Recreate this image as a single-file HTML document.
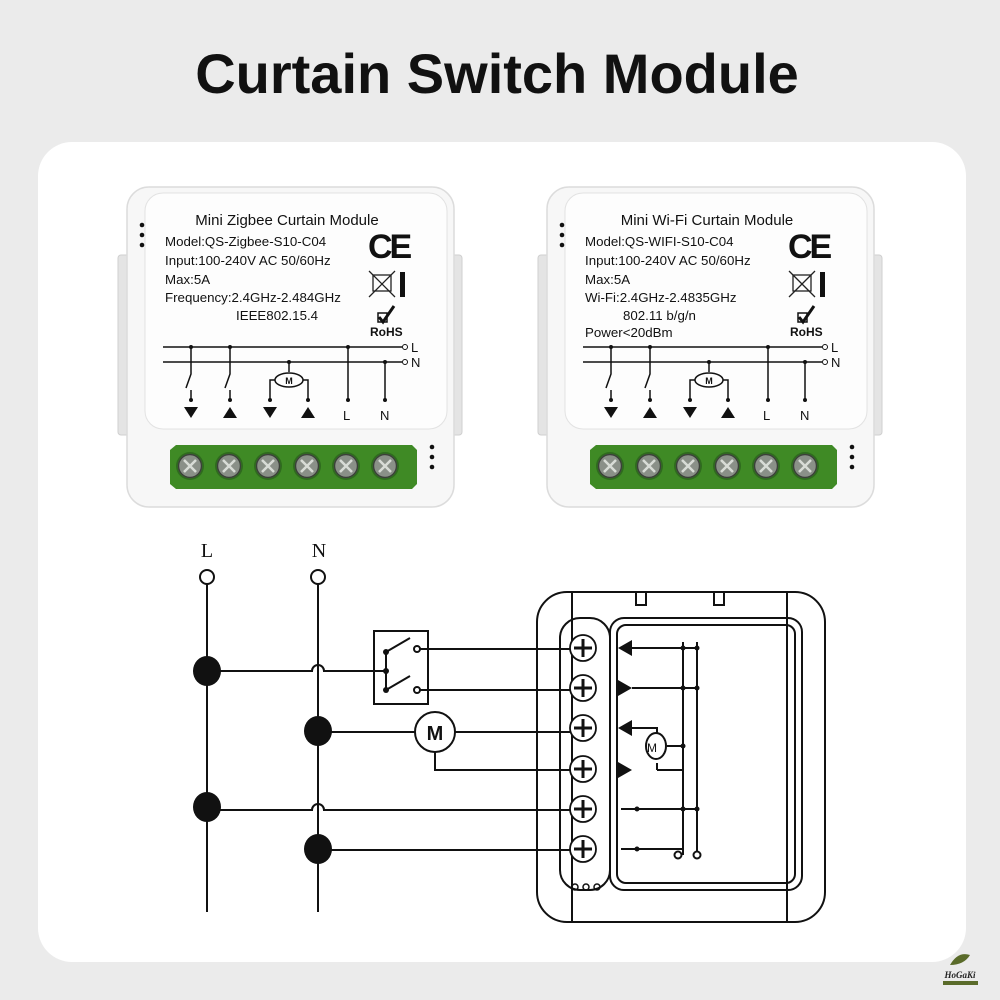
<!DOCTYPE html>
<html><head><meta charset="utf-8"><style>
html,body{margin:0;padding:0;background:#ebebeb;}
svg{display:block}
text{font-family:"Liberation Sans",sans-serif}
</style></head><body>
<svg width="1000" height="1000" viewBox="0 0 1000 1000" xmlns="http://www.w3.org/2000/svg">
<defs>
<g id="screw">
 <circle r="14" fill="#2f6b1e"/>
 <circle r="11.5" fill="#8a9088" stroke="#4a4f48" stroke-width="1.5"/>
 <path d="M-6,-6L6,6M6,-6L-6,6" stroke="#d8dcd6" stroke-width="2.5"/>
 <circle r="11.5" fill="none" stroke="#3a3f38" stroke-width="1"/>
</g>
<g id="mod">
 <rect x="118" y="255" width="14" height="180" rx="3" fill="#e4e4e4" stroke="#cfcfcf"/>
 <rect x="448" y="255" width="14" height="180" rx="3" fill="#e4e4e4" stroke="#cfcfcf"/>
 <rect x="127" y="187" width="327" height="320" rx="22" fill="#f7f7f7" stroke="#dcdcdc" stroke-width="1.5"/>
 <rect x="145" y="193" width="302" height="236" rx="18" fill="#fdfdfd" stroke="#e2e2e2"/>
 <circle cx="142" cy="225" r="2.3" fill="#111"/><circle cx="142" cy="235" r="2.3" fill="#111"/><circle cx="142" cy="245" r="2.3" fill="#111"/>
 <circle cx="432" cy="447" r="2.3" fill="#111"/><circle cx="432" cy="457" r="2.3" fill="#111"/><circle cx="432" cy="467" r="2.3" fill="#111"/>
 <text x="368" y="258" font-size="34" font-weight="bold" fill="#111" letter-spacing="-3">CE</text>
 <rect x="373" y="275" width="18" height="16" fill="none" stroke="#222" stroke-width="1.3"/>
 <path d="M369,271L395,297M395,271L369,297" stroke="#222" stroke-width="1.3"/>
 <rect x="400" y="272" width="5" height="25" fill="#111"/>
 <rect x="378" y="313" width="9" height="9" fill="none" stroke="#111" stroke-width="1.5"/>
 <path d="M379,317L383,322L394,306" stroke="#111" stroke-width="3" fill="none"/>
 <text x="370" y="336" font-size="12" font-weight="bold" fill="#111">RoHS</text>
 <g stroke="#111" stroke-width="1.5" fill="none">
  <path d="M163,347H402M163,362H402"/>
  <path d="M191,347V362M230,347V362M348,347V400M385,362V400M289,362V372"/>
  <path d="M191,362V374L186,388M191,390V400M230,362V374L225,388M230,390V400"/>
  <ellipse cx="289" cy="380" rx="14" ry="7"/>
  <path d="M275,380H270V400M303,380H308V400"/>
 </g>
 <text x="289" y="384" font-size="9" font-weight="bold" text-anchor="middle" fill="#111">M</text>
 <g fill="#111">
  <circle cx="191" cy="347" r="2"/><circle cx="230" cy="347" r="2"/><circle cx="348" cy="347" r="2"/>
  <circle cx="385" cy="362" r="2"/><circle cx="289" cy="362" r="2"/>
  <circle cx="191" cy="400" r="2"/><circle cx="230" cy="400" r="2"/><circle cx="270" cy="400" r="2"/><circle cx="308" cy="400" r="2"/><circle cx="348" cy="400" r="2"/><circle cx="385" cy="400" r="2"/>
  <path d="M184,407h14l-7,11z M223,418h14l-7,-11z M263,407h14l-7,11z M301,418h14l-7,-11z"/>
 </g>
 <circle cx="405" cy="347" r="2.5" fill="#fff" stroke="#111"/><circle cx="405" cy="362" r="2.5" fill="#fff" stroke="#111"/>
 <text x="411" y="352" font-size="13" fill="#111">L</text><text x="411" y="367" font-size="13" fill="#111">N</text>
 <text x="343" y="420" font-size="13" fill="#111">L</text><text x="380" y="420" font-size="13" fill="#111">N</text>
 <path d="M170,450 L176,445 H412 L417,450 V484 L412,489 H176 L170,484Z" fill="#3f8a25"/>
 <use href="#screw" x="190" y="466"/><use href="#screw" x="229" y="466"/><use href="#screw" x="268" y="466"/>
 <use href="#screw" x="307" y="466"/><use href="#screw" x="346" y="466"/><use href="#screw" x="385" y="466"/>
</g>
</defs>

<text x="497" y="93" font-size="56" font-weight="bold" text-anchor="middle" fill="#111">Curtain Switch Module</text>
<rect x="38" y="142" width="928" height="820" rx="34" fill="#fff"/>

<use href="#mod"/>
<g font-size="13.3" fill="#111">
 <text x="287" y="225" font-size="15" text-anchor="middle">Mini Zigbee Curtain Module</text>
 <text x="165" y="246">Model:QS-Zigbee-S10-C04</text>
 <text x="165" y="265">Input:100-240V AC  50/60Hz</text>
 <text x="165" y="284">Max:5A</text>
 <text x="165" y="302">Frequency:2.4GHz-2.484GHz</text>
 <text x="236" y="320">IEEE802.15.4</text>
</g>
<use href="#mod" x="420"/>
<g font-size="13.3" fill="#111">
 <text x="707" y="225" font-size="15" text-anchor="middle">Mini Wi-Fi Curtain Module</text>
 <text x="585" y="246">Model:QS-WIFI-S10-C04</text>
 <text x="585" y="265">Input:100-240V AC  50/60Hz</text>
 <text x="585" y="284">Max:5A</text>
 <text x="585" y="302">Wi-Fi:2.4GHz-2.4835GHz</text>
 <text x="623" y="320">802.11 b/g/n</text>
 <text x="585" y="337">Power&lt;20dBm</text>
</g>

<text x="207" y="557" font-size="20" text-anchor="middle" fill="#111" style="font-family:'Liberation Serif',serif">L</text>
<text x="319" y="557" font-size="20" text-anchor="middle" fill="#111" style="font-family:'Liberation Serif',serif">N</text>
<g stroke="#111" stroke-width="2" fill="none">
 <circle cx="207" cy="577" r="7" fill="#fff"/><circle cx="318" cy="577" r="7" fill="#fff"/>
 <path d="M207,584V912M318,584V912"/>
 <path d="M207,671H312a6,6 0 0 1 12,0H386"/>
 <rect x="374" y="631" width="54" height="73"/>
 <path d="M386,652V690M386,652L410,638M386,690L410,676"/>
 <circle cx="417" cy="649" r="3" fill="#fff"/><circle cx="417" cy="690" r="3" fill="#fff"/>
 <path d="M420,649H580M420,690H580"/>
 <path d="M318,732H415"/><circle cx="435" cy="732" r="20" fill="#fff"/>
 <path d="M455,732H580M435,752V770H580"/>
 <path d="M207,810H312a6,6 0 0 1 12,0H580M318,850H580"/>
</g>
<g fill="#111">
 <circle cx="386" cy="652" r="3"/><circle cx="386" cy="671" r="3"/><circle cx="386" cy="690" r="3"/>
 <ellipse cx="207" cy="671" rx="14" ry="15"/><ellipse cx="318" cy="731" rx="14" ry="15"/>
 <ellipse cx="207" cy="807" rx="14" ry="15"/><ellipse cx="318" cy="849" rx="14" ry="15"/>
</g>
<text x="435" y="740" font-size="20" font-weight="bold" text-anchor="middle" fill="#111">M</text>

<g stroke="#111" stroke-width="2" fill="none">
 <rect x="537" y="592" width="288" height="330" rx="30"/>
 <path d="M572,593V922M787,593V922"/>
 <path d="M636,593V605H646V593M714,593V605H724V593"/>
 <rect x="560" y="618" width="50" height="272" rx="20"/>
 <rect x="610" y="618" width="192" height="272" rx="14"/>
 <rect x="617" y="625" width="178" height="258" rx="9"/>
 <path d="M683,642V855M697,642V855"/>
 <path d="M632,648H697M632,688H697M657,770H683M621,809H697M621,849H683"/>
 <path d="M632,728H657V742M657,770V763"/>
 <ellipse cx="656" cy="746" rx="10" ry="13" fill="#fff"/>
 <path d="M667,746H683"/>
</g>
<g fill="#111">
 <path d="M618,648l14,-8v16z M618,680v16l14,-8z M618,728l14,-8v16z M618,762v16l14,-8z"/>
 <circle cx="683" cy="648" r="2.5"/><circle cx="697" cy="648" r="2.5"/><circle cx="683" cy="688" r="2.5"/><circle cx="697" cy="688" r="2.5"/>
 <circle cx="683" cy="746" r="2.5"/><circle cx="683" cy="809" r="2.5"/><circle cx="697" cy="809" r="2.5"/><circle cx="637" cy="809" r="2.5"/><circle cx="637" cy="849" r="2.5"/>
</g>
<circle cx="678" cy="855" r="3.5" fill="#fff" stroke="#111" stroke-width="2"/><circle cx="697" cy="855" r="3.5" fill="#fff" stroke="#111" stroke-width="2"/>
<text x="652" y="752" font-size="12" fill="#111" text-anchor="middle">M</text>
<g stroke="#111" stroke-width="1.8" fill="#fff">
 <circle cx="583" cy="648" r="13"/><circle cx="583" cy="688" r="13"/><circle cx="583" cy="728" r="13"/>
 <circle cx="583" cy="769" r="13"/><circle cx="583" cy="809" r="13"/><circle cx="583" cy="849" r="13"/>
</g>
<g stroke="#111" stroke-width="3">
 <path d="M574,648h18M583,639v18M574,688h18M583,679v18M574,728h18M583,719v18M574,769h18M583,760v18M574,809h18M583,800v18M574,849h18M583,840v18"/>
</g>
<g fill="none" stroke="#111" stroke-width="1.5"><circle cx="575" cy="887" r="3"/><circle cx="586" cy="887" r="3"/><circle cx="597" cy="887" r="3"/></g>

<path d="M950,965 q8,-14 20,-10 q-6,10 -20,10z" fill="#5a6b2a"/>
<text x="960" y="978" font-size="9" font-style="italic" font-weight="bold" text-anchor="middle" fill="#222" style="font-family:'Liberation Serif',serif">HoGaKi</text>
<rect x="943" y="981" width="35" height="4" fill="#5a6b2a"/>
</svg>
</body></html>
